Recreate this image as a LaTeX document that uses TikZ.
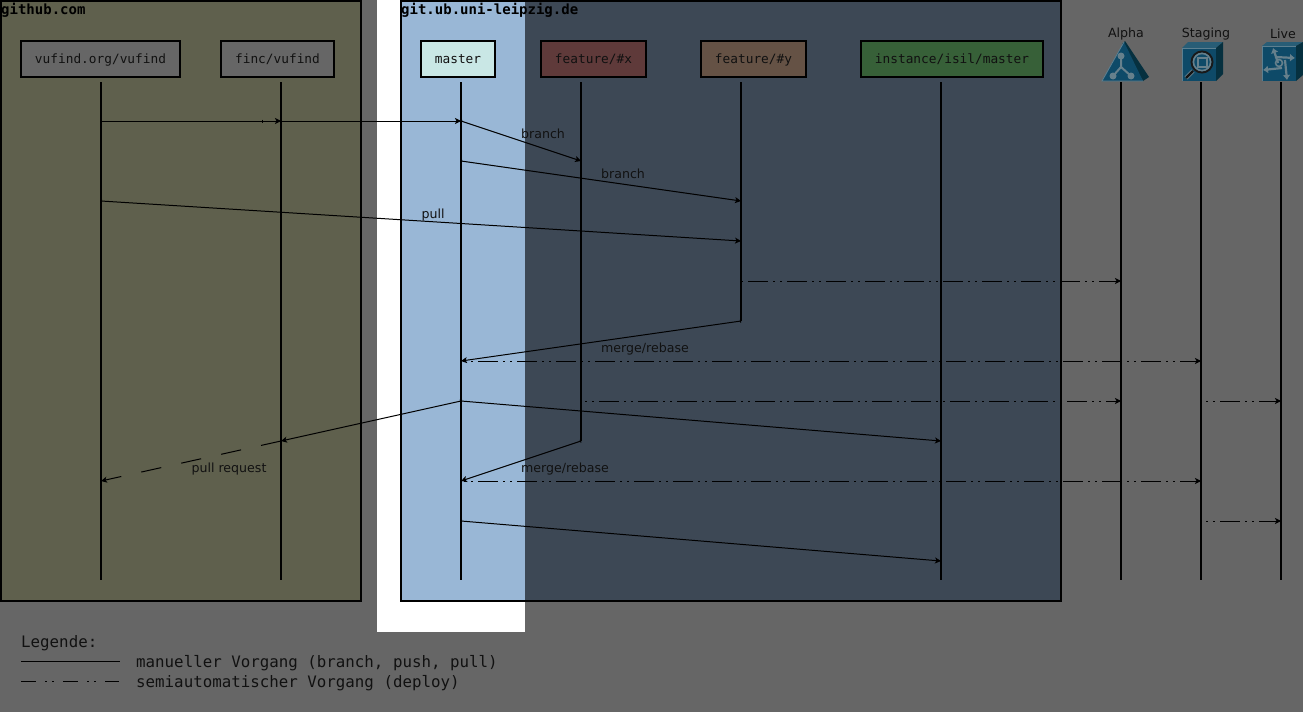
\documentclass[tikz,border=0pt]{standalone}
\usepackage{fontspec}
\setmainfont{DejaVu Sans}
\setmonofont{DejaVu Sans Mono}
\usetikzlibrary{arrows.meta}
\definecolor{bgc}{HTML}{666666}
\definecolor{ghc}{HTML}{5F604D}
\definecolor{dkc}{HTML}{3D4855}
\definecolor{ltc}{HTML}{99B7D6}
\definecolor{masc}{HTML}{C9E7E5}
\definecolor{fxc}{HTML}{5F3A3A}
\definecolor{fyc}{HTML}{655245}
\definecolor{insc}{HTML}{376038}
\definecolor{icf}{HTML}{0E4A68}
\definecolor{ict}{HTML}{1B5570}
\definecolor{ics}{HTML}{06303F}
\definecolor{ine}{HTML}{5C7F90}
\definecolor{icg}{HTML}{66808C}
\definecolor{txc}{HTML}{111111}
\tikzset{
 x=1pt,y=-1pt,
 zone/.style={draw=black,line width=2pt},
 repo/.style={draw=black,line width=2pt,minimum height=36pt,inner sep=0pt,text height=11.5pt,text depth=2.5pt,font=\ttfamily\fontsize{12.8}{14}\selectfont,text=txc},
 lifeline/.style={line width=2pt,black},
 tipped/.style={-{Stealth[length=6pt,width=6pt,inset=1.5pt]}},
 act/.style={line width=1pt,black,{Bar[width=3pt,length=1pt]}-{Stealth[length=6pt,width=6pt,inset=1.5pt]}},
 plainact/.style={line width=1pt,black},
 semi/.style={line width=1pt,black,dash pattern=on 20pt off 5pt on 2pt off 5pt on 2pt off 5pt,tipped},
 lbl/.style={font=\fontsize{12.6}{14}\selectfont,text=txc,inner sep=0pt},
 ttl/.style={font=\ttfamily\bfseries\fontsize{14}{16}\selectfont,text=black,inner sep=0pt,anchor=west},
 lgd/.style={font=\ttfamily\fontsize{15.8}{18}\selectfont,text=txc,inner sep=0pt,anchor=west},
}
\begin{document}
\begin{tikzpicture}
\useasboundingbox (0,0) rectangle (1303,712);
\fill[bgc] (0,0) rectangle (1303,712);
\fill[white] (377,0) rectangle (525,632);
\fill[ghc] (1,1) rectangle (361,601);
\fill[ltc] (401,1) rectangle (525,601);
\fill[dkc] (525,1) rectangle (1061,601);
\draw[zone] (1,1) rectangle (361,601);
\draw[zone] (401,1) rectangle (1061,601);
\node[ttl] (tgh) at (1,10) {github.com};
\node[ttl] (tub) at (401,10) {git.ub.uni-leipzig.de};
% repositories
\node[repo,fill=bgc,minimum width=159pt] (vuf) at (100.5,59) {vufind.org/vufind};
\node[repo,fill=bgc,minimum width=113pt] (fin) at (277.5,59) {finc/vufind};
\node[repo,fill=masc,minimum width=74pt] (mas) at (458,59) {master};
\node[repo,fill=fxc,minimum width=105pt] (fx) at (593.5,59) {feature/\#x};
\node[repo,fill=fyc,minimum width=105pt] (fy) at (753.5,59) {feature/\#y};
\node[repo,fill=insc,minimum width=182pt] (ins) at (952,59) {instance/isil/master};
% hosts
\node[lbl] (la) at (1126,34) {Alpha};
\node[lbl] (ls) at (1206,34) {Staging};
\node[lbl] (ll) at (1283,34) {Live};
% lifeline ends
\foreach \n/\x/\e in {a/101/580,b/281/580,c/461/580,d/581/441,e/741/321,f/941/580,g/1121/580,h/1201/580,i/1281/580}{
  \coordinate (\n0) at (\x,82);
  \coordinate (\n1) at (\x,\e);
  \draw[lifeline] (\n0) -- (\n1);
}
% alpha icon
\fill[ics] (1125,41) -- (1149,77) -- (1143,81) -- (1122,44) -- cycle;
\fill[icf] (1124,42) -- (1143,81) -- (1102,81) -- cycle;
\draw[ine,line width=.8pt] (1124,42) -- (1102,81) -- (1143,81);
\draw[icg,line width=2pt] (1121,56) -- (1121,67) -- (1113,76) (1121,67) -- (1131,76);
\fill[icg] (1121,56) circle (3.5pt) (1113,76) circle (3.5pt) (1131,76) circle (3.5pt);
% staging icon
\fill[ict!80!ine] (1182,48) -- (1188,42) -- (1223,42) -- (1216,48) -- cycle;
\fill[ics] (1216,48) -- (1223,42) -- (1223,74) -- (1216,81) -- cycle;
\fill[icf] (1182,48) rectangle (1216,81);
\draw[ine,line width=.8pt] (1182,81) -- (1182,48) -- (1216,48);
\draw[black!75!bgc,line width=2pt] (1202,62) circle (10.5pt);
\draw[icg,line width=1.6pt] (1202,62) circle (8.6pt);
\draw[icg,line width=2pt] (1197.5,57.5) rectangle (1206.5,66.5);
\draw[icg,line width=4pt] (1193,71) -- (1186,78);
\draw[black!80!bgc,line width=2.2pt] (1193,71) -- (1186,78);
% live icon
\fill[ict!80!ine] (1262,46) -- (1267,42) -- (1303,42) -- (1296,46) -- cycle;
\fill[ics] (1296,46) -- (1303,42) -- (1303,75) -- (1296,81) -- cycle;
\fill[icf] (1262,46) rectangle (1296,81);
\draw[ine,line width=.8pt] (1262,81) -- (1262,46) -- (1296,46);
\begin{scope}[icg,line width=2.2pt,-{Latex[length=5pt,width=8pt]}]
\draw (1278,63) -- (1273,48);
\draw (1275,57) -- (1295,58);
\draw (1282,68) -- (1263,70);
\draw (1285,60) -- (1287,80);
\end{scope}
\draw[icg,line width=1.6pt] (1279,63) circle (3.5pt);
% event points
\coordinate (p1) at (101,121);
\coordinate (p2) at (281,121);
\coordinate (p3) at (461,121);
\coordinate (p4) at (581,161);
\coordinate (p5) at (461,161);
\coordinate (p6) at (741,201);
\coordinate (p7) at (101,201);
\coordinate (p8) at (741,241);
\coordinate (p9) at (741,281);
\coordinate (p10) at (1121,281);
\coordinate (p11) at (741,321);
\coordinate (p12) at (461,361);
\coordinate (p13) at (464,361);
\coordinate (p14) at (1201,361);
\coordinate (p15) at (585,401);
\coordinate (p16) at (1121,401);
\coordinate (p17) at (1206,401);
\coordinate (p18) at (1281,401);
\coordinate (p19) at (461,401);
\coordinate (p20) at (941,441);
\coordinate (p21) at (281,441);
\coordinate (p22) at (101,481);
\coordinate (p23) at (581,441);
\coordinate (p24) at (461,481);
\coordinate (p25) at (464,481);
\coordinate (p26) at (1201,481);
\coordinate (p27) at (1206,521);
\coordinate (p28) at (1281,521);
\coordinate (p29) at (461,521);
\coordinate (p30) at (941,561);
\coordinate (p1b) at (263,121);
% connectors
\draw[plainact,{Bar[width=3pt,length=1pt]}-{Bar[width=3pt,length=1pt]}] (p1) -- (p1b);
\draw[plainact,tipped] (p1b) -- (p2);
\draw[plainact,tipped] (p2) -- (p3);
\draw[act] (p3) -- (p4);
\draw[act] (p5) -- (p6);
\draw[act] (p7) -- (p8);
\draw[semi,dash phase=32pt] (p9) -- (p10);
\draw[act] (p11) -- (p12);
\draw[semi,dash phase=25pt] (p13) -- (p14);
\draw[semi,dash phase=25pt] (p15) -- (p16);
\draw[semi,dash phase=25pt] (p17) -- (p18);
\draw[act] (p19) -- (p20);
\draw[act] (p19) -- (p21);
\draw[plainact,tipped,dash pattern=on 20.4pt off 20.5pt] (p21) -- (p22);
\draw[act] (p23) -- (p24);
\draw[semi,dash phase=25pt] (p25) -- (p26);
\draw[semi,dash phase=25pt] (p27) -- (p28);
\draw[act] (p29) -- (p30);
% labels
\node[lbl] (b1) at (543,134) {branch};
\node[lbl] (b2) at (623,174) {branch};
\node[lbl] (b3) at (433,215) {pull};
\node[lbl] (b4) at (645,349) {merge/rebase};
\node[lbl] (b5) at (229,469) {pull request};
\node[lbl] (b6) at (565,469) {merge/rebase};
% legend
\node[lgd] (lg0) at (21,643) {Legende:};
\node[lgd] (lg1) at (136,663) {manueller Vorgang (branch, push, pull)};
\node[lgd] (lg2) at (136,683) {semiautomatischer Vorgang (deploy)};
\coordinate (l1a) at (21,661); \coordinate (l1b) at (120,661);
\coordinate (l2a) at (21,681); \coordinate (l2b) at (119,681);
\draw[plainact] (l1a) -- (l1b);
\draw[plainact,dash pattern=on 15pt off 9pt on 2pt off 5pt on 2pt off 9pt] (l2a) -- (l2b);
\end{tikzpicture}
\end{document}
